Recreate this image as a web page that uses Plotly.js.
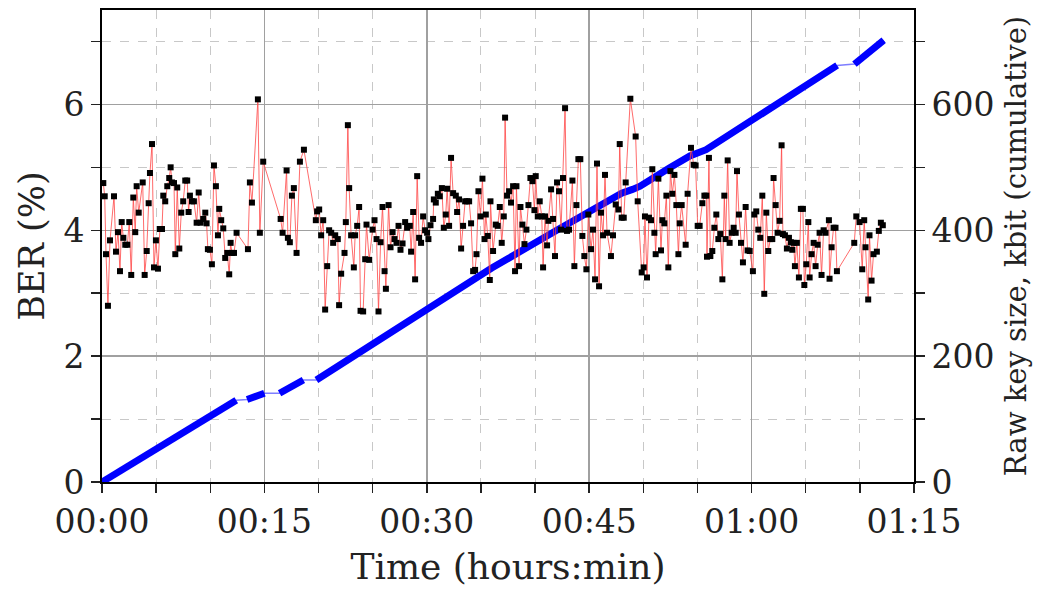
<!DOCTYPE html>
<html>
<head>
<meta charset="utf-8">
<script src="https://cdn.plot.ly/plotly-3.0.1.min.js"></script>
<style>html,body{margin:0;padding:0;background:#fff;}#chart{width:1038px;height:591px;}</style>
</head>
<body>
<div id="chart"></div>
<script>
// BER samples: time in minutes, BER in %
const berTime = [0.12,0.25,0.37,0.55,0.74,1.11,1.29,1.48,1.66,1.82,1.97,2.15,2.34,2.52,2.70,2.89,3.07,3.20,3.39,3.76,3.94,4.13,4.31,4.43,4.62,4.80,4.98,5.17,5.35,5.54,5.66,5.84,6.03,6.21,6.34,6.46,6.65,6.77,6.95,7.14,7.32,7.50,7.69,7.87,8.00,8.12,8.31,8.49,8.74,8.93,9.11,9.35,9.54,9.66,9.78,9.97,10.15,10.34,10.52,10.71,10.83,11.01,11.20,11.38,11.57,11.75,11.88,12.00,12.19,12.43,
13.48,13.66,13.85,14.40,14.58,14.89,
16.50,16.68,17.05,17.17,17.35,17.54,17.72,17.97,18.28,18.65,
19.75,19.87,20.06,20.24,20.43,20.61,20.80,20.98,21.17,21.35,21.54,21.78,21.90,22.09,22.40,22.52,22.71,22.83,23.01,23.26,23.38,23.57,23.75,23.88,
24.12,24.31,24.43,24.68,24.99,25.17,25.36,25.54,25.73,25.91,26.10,26.22,26.47,26.65,26.84,27.02,27.20,27.39,27.57,27.76,28.00,28.18,28.43,28.55,28.74,28.92,29.11,29.29,29.47,29.66,29.84,30.03,30.15,30.34,30.58,30.65,30.83,31.02,31.20,31.39,31.57,31.75,31.88,32.06,32.24,32.43,32.68,32.80,32.98,33.17,33.35,33.54,33.72,33.91,34.09,34.28,34.46,34.59,34.77,34.96,35.14,35.33,35.45,35.63,35.82,35.88,
36.12,36.37,36.55,36.74,36.92,37.11,37.23,37.41,37.60,37.78,37.97,38.15,38.28,38.52,38.65,38.83,39.02,39.20,39.39,39.57,39.76,39.94,40.06,40.25,40.43,40.62,40.74,40.92,41.11,41.23,41.48,41.66,41.84,42.03,42.21,42.40,42.58,42.77,42.95,43.14,43.45,43.63,43.82,44.00,44.18,44.37,44.55,44.74,44.92,45.17,45.35,45.54,45.72,45.91,46.09,46.28,46.46,46.65,47.01,47.20,47.45,47.70,47.82,
48.00,48.19,48.37,48.80,49.29,49.48,49.85,50.03,50.15,50.34,50.52,50.71,50.83,51.02,51.14,51.39,51.63,51.76,51.94,52.13,52.31,52.50,52.68,52.87,53.05,53.24,53.36,53.54,53.91,54.09,54.40,54.65,54.83,55.02,55.20,55.45,55.64,55.82,55.88,56.06,56.19,56.37,56.56,56.74,56.93,57.11,57.30,57.48,57.60,57.79,57.97,58.16,58.34,58.53,58.65,58.83,59.02,59.20,59.45,59.63,59.82,
60.12,60.25,60.43,60.62,60.80,60.99,61.17,61.36,61.54,61.73,61.91,62.03,62.22,62.40,62.59,62.77,62.89,63.08,63.26,63.45,63.63,63.76,63.88,64.00,64.18,64.37,64.55,64.74,64.87,65.05,65.24,65.36,65.54,65.73,65.91,66.10,66.28,66.46,66.65,66.83,67.14,67.20,67.39,67.57,67.75,67.88,
69.48,69.67,69.97,70.22,70.40,70.52,70.77,70.89,71.08,71.26,71.57,71.75,71.94,72.12];
const berValue = [4.75,4.54,3.62,2.80,3.84,4.54,3.66,3.97,3.35,4.13,3.88,3.77,3.77,4.13,3.29,4.52,3.97,4.70,4.28,4.76,3.29,3.67,4.43,4.91,5.37,3.41,3.84,3.39,4.02,4.02,4.55,4.46,4.70,4.83,5.00,4.76,4.75,3.62,4.68,3.71,4.28,4.46,4.79,4.79,4.29,4.55,4.46,4.46,4.12,4.60,4.12,4.18,4.28,4.11,3.70,3.69,3.46,5.03,4.70,3.92,4.34,4.16,4.03,3.56,3.64,3.30,3.80,3.64,3.64,3.96,
3.70,4.76,4.44,6.08,3.96,5.09,
4.18,3.96,4.95,3.88,3.81,4.55,4.67,3.64,5.09,5.28,
4.16,4.30,4.33,3.92,4.16,2.74,3.43,4.00,3.96,3.80,3.92,3.86,2.81,3.31,3.64,4.13,5.67,4.67,3.92,3.41,3.92,4.07,4.37,2.72,
2.71,3.54,4.09,3.53,4.01,4.16,3.86,2.71,3.81,4.37,3.35,3.07,4.40,3.73,3.97,3.86,3.80,4.07,3.69,3.79,4.13,4.04,4.07,3.66,4.29,3.22,4.86,3.88,3.80,4.22,4.00,3.96,3.86,4.08,4.18,4.49,4.44,4.58,4.54,4.67,4.04,4.25,4.66,4.07,5.15,4.59,4.55,4.29,4.49,3.71,4.07,4.46,4.46,4.46,4.11,3.35,3.37,3.62,4.62,4.22,4.82,3.86,4.25,3.91,3.21,4.46,
3.67,4.09,4.07,4.37,3.80,4.22,5.79,4.55,4.62,4.44,4.70,3.35,4.70,3.43,4.37,4.09,3.78,4.01,4.40,4.83,4.78,4.32,4.86,4.22,4.46,4.22,3.41,4.22,3.76,4.15,4.65,4.18,3.59,4.76,4.62,4.01,4.83,5.94,3.99,4.01,4.79,3.43,4.40,5.13,5.13,3.91,3.59,3.38,4.25,3.70,4.01,3.22,5.06,3.11,4.28,3.92,4.88,3.96,3.59,3.92,4.41,4.33,5.37,
4.20,4.20,4.76,6.09,5.49,4.46,3.33,3.41,4.22,3.25,4.20,4.16,4.97,3.96,3.62,4.82,3.68,4.16,4.11,4.55,3.41,4.94,4.58,4.88,4.40,3.62,4.11,4.40,3.77,4.58,5.31,5.04,5.03,4.07,4.07,4.43,4.55,4.55,3.58,5.15,3.59,3.67,4.04,4.25,3.86,3.94,3.22,4.55,3.86,5.11,3.80,3.96,4.04,3.96,4.94,4.25,3.80,3.49,4.37,3.68,3.67,
3.35,4.25,4.30,4.01,3.88,4.55,2.99,4.28,3.67,3.86,3.86,4.83,4.40,3.96,4.15,5.35,3.94,3.92,3.71,3.88,3.81,3.69,3.80,3.43,3.80,3.25,4.34,4.34,3.13,3.46,4.13,3.25,3.62,3.80,3.43,3.77,3.96,3.29,4.00,3.96,4.16,3.23,3.73,4.04,4.04,3.35,
3.80,4.22,4.13,3.38,4.16,3.73,2.90,3.92,3.20,3.62,3.66,3.99,4.12,4.08];

// Cumulative raw key size (kbit), with acquisition segment ids
const keyTime = [0, 12.4, 13.4, 15.0, 16.4, 18.6, 19.8, 26.9, 29.0, 36.0, 42.0, 48.0, 49.0, 49.7, 52.4, 54.3, 55.8, 60.0, 65.0, 67.9, 69.5, 72.2];
const keyKbit = [0, 130, 131, 141, 141, 162, 162, 240, 264, 340, 400, 459, 465, 470, 499, 518, 528, 575, 628, 662, 664, 702];
const keySegment = [1, 1, 2, 2, 3, 3, 4, 4, 4, 4, 4, 4, 4, 4, 4, 4, 4, 4, 4, 4, 5, 5];

const xTickVals = [0, 15, 30, 45, 60, 75];
const xTickText = ['00:00', '00:15', '00:30', '00:45', '01:00', '01:15'];

// build thick segments separated by gaps
const segX = [], segY = [];
for (let i = 0; i < keyTime.length; i++) {
  if (i > 0 && keySegment[i] !== keySegment[i - 1]) { segX.push(null); segY.push(null); }
  segX.push(keyTime[i]); segY.push(keyKbit[i]);
}

const FONT = 'DejaVu Serif, Liberation Serif, serif';
const gridMajor = '#a0a0a0', gridMinor = '#c8c8c8';
const TICK = 33;

const traces = [
  { x: keyTime, y: keyKbit, type: 'scatter', mode: 'lines', yaxis: 'y',
    line: { color: 'rgba(40,40,255,0.6)', width: 1.5 }, hoverinfo: 'skip', showlegend: false },
  { x: segX, y: segY, type: 'scatter', mode: 'lines', yaxis: 'y', connectgaps: false,
    line: { color: '#0000ff', width: 7 }, showlegend: false },
  { x: berTime, y: berValue, type: 'scatter', mode: 'lines+markers', yaxis: 'y2',
    line: { color: 'rgba(255,70,70,0.8)', width: 1 },
    marker: { symbol: 'square', size: 6, color: '#000' }, showlegend: false }
];

const layout = {
  width: 1038, height: 591,
  margin: { l: 102, r: 124, t: 10, b: 109 },
  paper_bgcolor: '#fff', plot_bgcolor: '#fff',
  font: { family: FONT, color: '#222', size: TICK },
  showlegend: false,
  xaxis: {
    range: [0, 75], tickmode: 'array', tickvals: xTickVals, ticktext: xTickText,
    showgrid: true, gridcolor: gridMajor, gridwidth: 1.5,
    ticks: 'outside', ticklen: 9, tickwidth: 1.5, tickcolor: '#222',
    showline: true, linecolor: '#000', linewidth: 2, mirror: true, zeroline: false,
    tickfont: { family: FONT, size: TICK, color: '#222' },
    minor: { tickmode: 'linear', tick0: 0, dtick: 5, showgrid: true, gridcolor: gridMinor,
             griddash: 'dash', gridwidth: 1, ticks: 'outside', ticklen: 9, tickcolor: '#222' },
    title: { text: 'Time (hours:min)', font: { family: FONT, size: 36, color: '#222' }, standoff: 14 }
  },
  yaxis: {
    side: 'right', range: [0, 750], tickmode: 'linear', tick0: 0, dtick: 200,
    showgrid: true, gridcolor: gridMajor, gridwidth: 1.5, zeroline: false,
    ticks: 'outside', ticklen: 9, tickwidth: 1.5, tickcolor: '#222',
    showline: true, linecolor: '#000', linewidth: 2,
    tickfont: { family: FONT, size: TICK, color: '#222' },
    minor: { tickmode: 'linear', tick0: 0, dtick: 100, showgrid: true, gridcolor: gridMinor,
             griddash: 'dash', gridwidth: 1, ticks: 'outside', ticklen: 9, tickcolor: '#222' },
    title: { text: 'Raw key size, kbit (cumulative)', font: { family: FONT, size: 29, color: '#222' }, standoff: 12 }
  },
  yaxis2: {
    overlaying: 'y', side: 'left', range: [0, 7.5], tickmode: 'linear', tick0: 0, dtick: 2,
    showgrid: false, zeroline: false,
    ticks: 'outside', ticklen: 9, tickwidth: 1.5, tickcolor: '#222',
    showline: true, linecolor: '#000', linewidth: 2,
    tickfont: { family: FONT, size: TICK, color: '#222' },
    minor: { tickmode: 'linear', tick0: 0, dtick: 1, showgrid: false,
             ticks: 'outside', ticklen: 9, tickcolor: '#222' },
    title: { text: 'BER (%)', font: { family: FONT, size: 35, color: '#222' }, standoff: 8 }
  }
};

Plotly.newPlot('chart', traces, layout, { staticPlot: true, displayModeBar: false });
</script>
</body>
</html>
